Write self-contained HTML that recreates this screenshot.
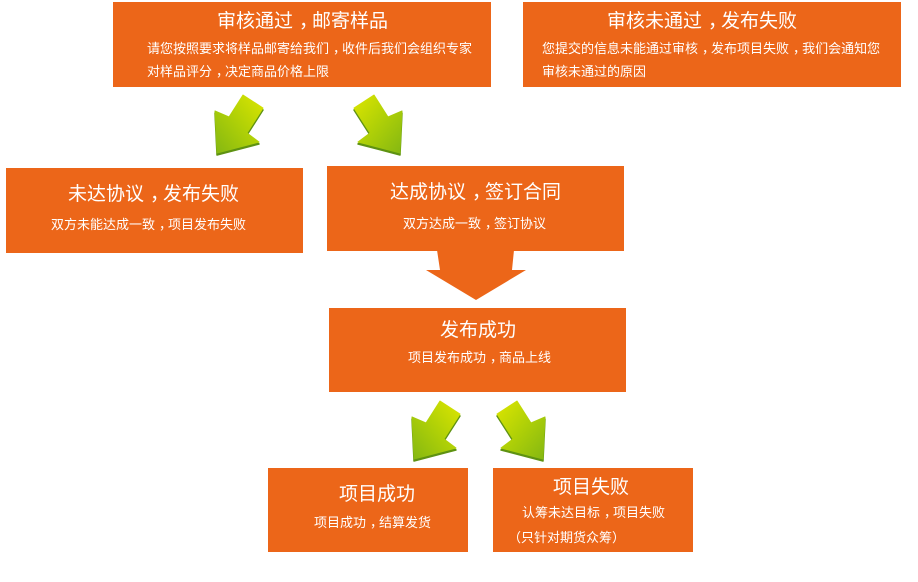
<!DOCTYPE html>
<html><head><meta charset="utf-8"><style>
html,body{margin:0;padding:0;background:#fff;}
body{width:918px;height:582px;overflow:hidden;}
svg{display:block;}
text{font-family:"Liberation Sans","Noto Sans CJK SC",sans-serif;fill:#fff;}
.t{font-size:19px;}
.b{font-size:13px;}
.p{font-family:"Noto Sans CJK TC",sans-serif;}
</style></head><body>
<svg width="918" height="582" viewBox="0 0 918 582" xmlns="http://www.w3.org/2000/svg">
<defs>
<linearGradient id="g" x1="1" y1="0" x2="0" y2="1">
<stop offset="0" stop-color="#dde600"/>
<stop offset="0.5" stop-color="#afd007"/>
<stop offset="1" stop-color="#84b712"/>
</linearGradient>
<g id="arr">
<polygon points="0,18 14,24 28,2 48,15 32,40 44,49 2,60" fill="#5e9212" stroke="#5e9212" stroke-width="1.5" stroke-linejoin="round"/>
<polygon points="0,16 14,22 28,0 48,13 32,38 44,47 2,58" fill="url(#g)" stroke="url(#g)" stroke-width="1" stroke-linejoin="round"/>
</g>
</defs>
<!-- boxes -->
<rect x="113" y="2" width="378" height="85" fill="#EC6619"/>
<rect x="523" y="2" width="378" height="85" fill="#EC6619"/>
<rect x="6" y="168" width="297" height="85" fill="#EC6619"/>
<rect x="327" y="166" width="297" height="85" fill="#EC6619"/>
<rect x="329" y="308" width="297" height="84" fill="#EC6619"/>
<rect x="268" y="468" width="200" height="84" fill="#EC6619"/>
<rect x="493" y="468" width="200" height="84" fill="#EC6619"/>
<!-- big orange arrow -->
<polygon points="437,250 514,250 512,270 526,270 476,300 426,270 440,270" fill="#EC6619"/>
<!-- green arrows -->
<use href="#arr" transform="translate(215,95)"/>
<use href="#arr" transform="translate(402,95) scale(-1,1)"/>
<use href="#arr" transform="translate(412,401)"/>
<use href="#arr" transform="translate(545,401) scale(-1,1)"/>
<!-- texts -->
<text class="t" x="217" y="27">审核通过<tspan dx="6">，</tspan><tspan dx="-6">邮寄样品</tspan></text>
<text class="b" x="147" y="53">请您按照要求将样品邮寄给我们<tspan dx="4">，</tspan><tspan dx="-4">收件后我们会组织专家</tspan></text>
<text class="b" x="147" y="76">对样品评分<tspan dx="4">，</tspan><tspan dx="-4">决定商品价格上限</tspan></text>

<text class="t" x="607" y="27">审核未通过<tspan dx="6">，</tspan><tspan dx="-6">发布失败</tspan></text>
<text class="b" x="542" y="53">您提交的信息未能通过审核<tspan dx="4">，</tspan><tspan dx="-4">发布项目失败</tspan><tspan dx="4">，</tspan><tspan dx="-4">我们会通知您</tspan></text>
<text class="b" x="542" y="76">审核未通过的原因</text>

<text class="t" x="68" y="200">未达协议<tspan dx="6">，</tspan><tspan dx="-6">发布失败</tspan></text>
<text class="b" x="51" y="229">双方未能达成一致<tspan dx="4">，</tspan><tspan dx="-4">项目发布失败</tspan></text>

<text class="t" x="390" y="198">达成协议<tspan dx="6">，</tspan><tspan dx="-6">签订合同</tspan></text>
<text class="b" x="403" y="228">双方达成一致<tspan dx="4">，</tspan><tspan dx="-4">签订协议</tspan></text>

<text class="t" x="440" y="336">发布成功</text>
<text class="b" x="408" y="362">项目发布成功<tspan dx="4">，</tspan><tspan dx="-4">商品上线</tspan></text>

<text class="t" x="339" y="500">项目成功</text>
<text class="b" x="314" y="527">项目成功<tspan dx="4">，</tspan><tspan dx="-4">结算发货</tspan></text>

<text class="t" x="553" y="493">项目失败</text>
<text class="b" x="522" y="517">认筹未达目标<tspan dx="4">，</tspan><tspan dx="-4">项目失败</tspan></text>
<text class="b" x="508" y="542"><tspan class="p">（</tspan>只针对期货众筹<tspan class="p">）</tspan></text>
</svg>
</body></html>
